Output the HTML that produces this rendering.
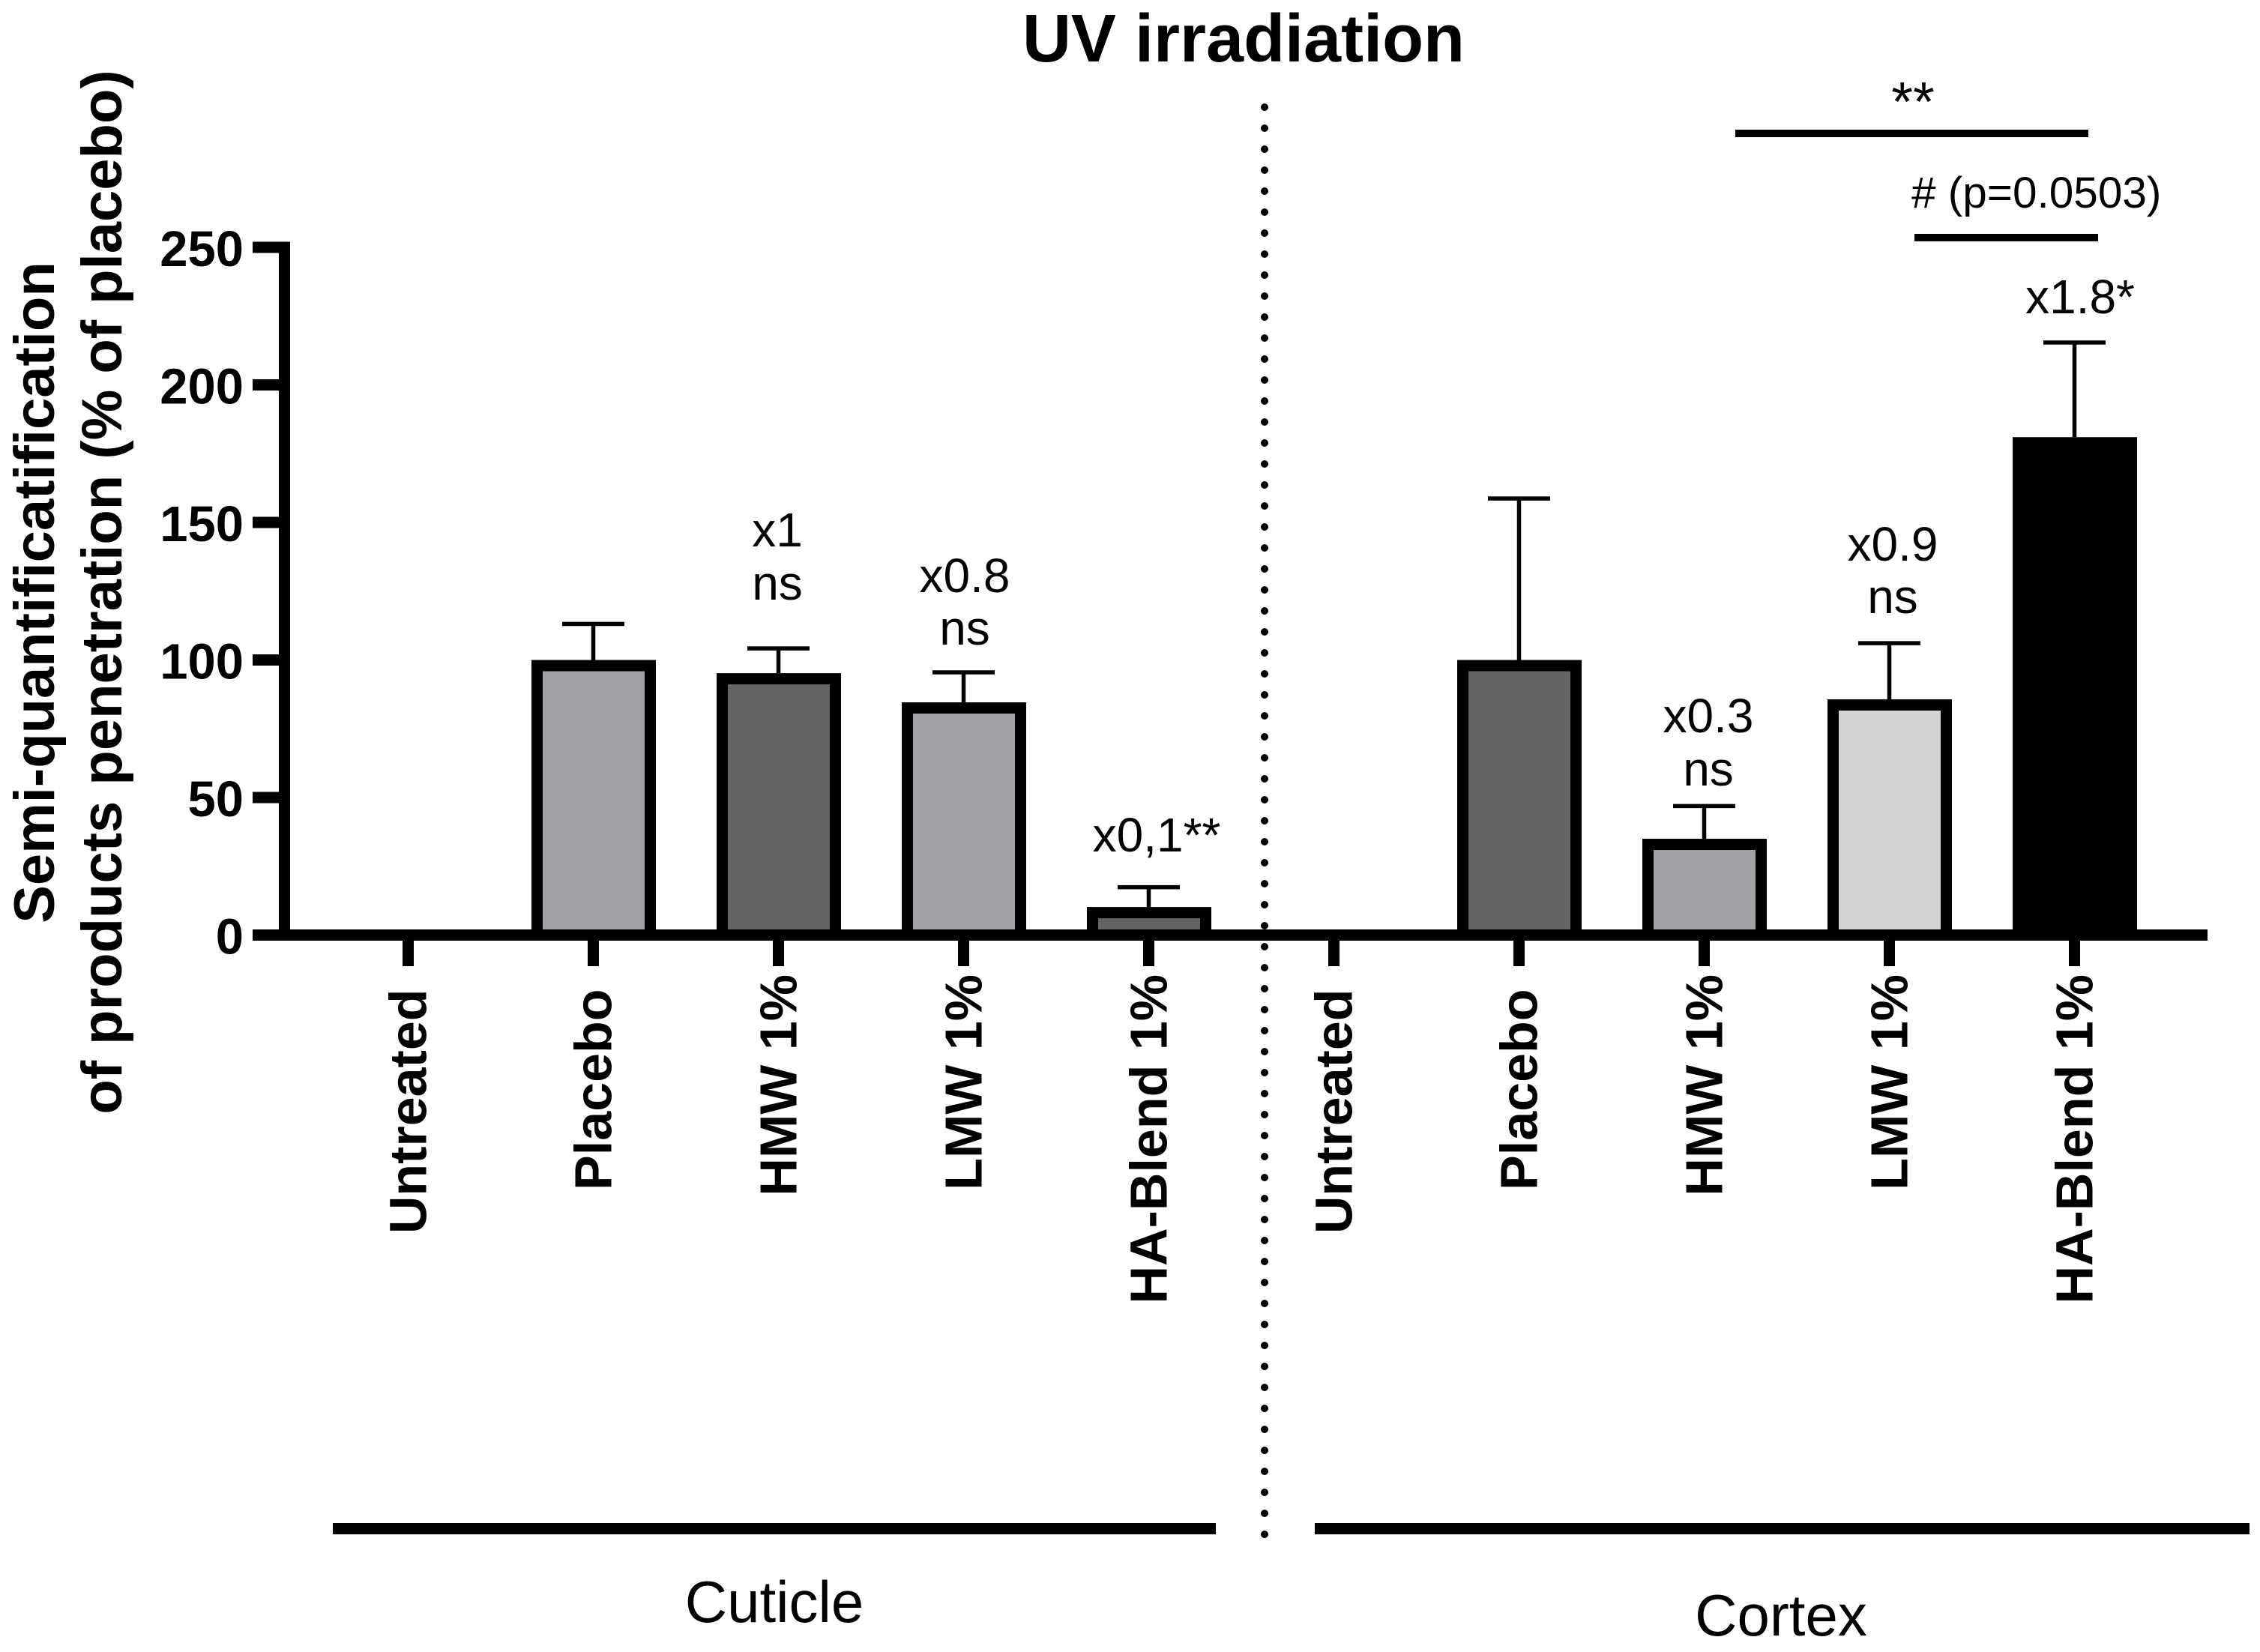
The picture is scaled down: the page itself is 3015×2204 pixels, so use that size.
<!DOCTYPE html>
<html lang="en">
<head>
<meta charset="utf-8">
<title>UV irradiation</title>
<style>
  html, body { margin: 0; padding: 0; background: #fff; }
  svg { display: block; }
  text { font-family: "Liberation Sans", Arial, sans-serif; fill: #000; }
  .bold { font-weight: bold; }
</style>
</head>
<body>
<svg id="chart" xmlns="http://www.w3.org/2000/svg" width="3015" height="2204" viewBox="0 0 3015 2204">
  <rect x="0" y="0" width="3015" height="2204" fill="#fff"/>

  <text class="bold" x="1659" y="82" font-size="90" text-anchor="middle">UV irradiation</text>

  <text class="bold" transform="translate(72 790.5) rotate(-90)" font-size="76" text-anchor="middle">Semi-quantificatification</text>
  <text class="bold" transform="translate(162 790) rotate(-90)" font-size="76" text-anchor="middle">of products penetration (% of placebo)</text>

  <g id="errors"></g>
  <g id="bars"></g>
  <g id="axes"></g>

  <line x1="1687" y1="143" x2="1687" y2="2050" stroke="#000" stroke-width="10" stroke-linecap="round" stroke-dasharray="0 28"/>

  <text x="1037" y="729" font-size="64" text-anchor="middle">x1</text>
  <text x="1037" y="800" font-size="64" text-anchor="middle">ns</text>
  <text x="1287" y="790" font-size="64" text-anchor="middle">x0.8</text>
  <text x="1287" y="860" font-size="64" text-anchor="middle">ns</text>
  <text x="1543" y="1136" font-size="64" text-anchor="middle">x0,1**</text>
  <text x="2279" y="977" font-size="64" text-anchor="middle">x0.3</text>
  <text x="2279" y="1048" font-size="64" text-anchor="middle">ns</text>
  <text x="2525" y="748" font-size="64" text-anchor="middle">x0.9</text>
  <text x="2525" y="818" font-size="64" text-anchor="middle">ns</text>
  <text x="2775" y="418" font-size="64" text-anchor="middle">x1.8*</text>

  <text x="2552" y="161" font-size="74" text-anchor="middle">**</text>
  <rect x="2315" y="173" width="471" height="10" fill="#000"/>
  <text x="2550" y="277" font-size="58.5"># (p=0.0503)</text>
  <rect x="2554" y="312" width="245" height="10" fill="#000"/>

  <rect x="444" y="2032" width="1178" height="15" fill="#000"/>
  <rect x="1754" y="2032" width="1247" height="15" fill="#000"/>
  <text x="1033" y="2164" font-size="78" text-anchor="middle">Cuticle</text>
  <text x="2376" y="2182" font-size="78" text-anchor="middle">Cortex</text>
</svg>

<script>
const categories = ["Untreated\u00A0", "Placebo\u00A0", "HMW 1%", "LMW 1%", "HA-Blend 1%", "Untreated\u00A0", "Placebo\u00A0", "HMW 1%", "LMW 1%", "HA-Blend 1%"];
const barValues = [0, 100, 95.2, 84.6, 10.2, 0, 100, 35, 85.7, 181];
const errorValues = [0, 13.1, 9, 10.9, 7.2, 0, 58.7, 11.9, 20.4, 34.4];
const yTicks = [0, 50, 100, 150, 200, 250];

const SHADES = ["#ffffff", "#a2a1a5", "#636363", "#a2a1a5", "#636363", "#ffffff", "#636363", "#a2a1a5", "#d4d4d4", "#000000"];
const NS = "http://www.w3.org/2000/svg";
const Y0 = 1247.5, YPX = 3.67, X0 = 544.5, XSTEP = 247;
const BAR_W = 166, BORDER = 15, CAP_W = 83;

function yScale(v) { return Y0 - v * YPX; }
function xScale(i) { return X0 + i * XSTEP; }

function make(parent, tag, attrs) {
  const el = document.createElementNS(NS, tag);
  for (const k in attrs) el.setAttribute(k, attrs[k]);
  parent.appendChild(el);
  return el;
}

const barsG = document.getElementById("bars");
const errG = document.getElementById("errors");
const axesG = document.getElementById("axes");

categories.forEach(function (cat, i) {
  const cx = xScale(i);
  const top = yScale(barValues[i]);
  const errTop = yScale(barValues[i] + errorValues[i]);
  const h = Math.max(0, Y0 - top);
  const slug = cat.trim().toLowerCase().replace(/[^a-z0-9]+/g, "-") + (i < 5 ? "-cuticle" : "-cortex");

  const stem = make(errG, "rect", { x: cx - 2.75, y: errTop, width: 5.5, height: Math.max(0, top - errTop), fill: "#000" });
  
  

  const cap = make(errG, "rect", { x: cx - CAP_W / 2, y: errTop - 2.75, width: CAP_W, height: 5.5, fill: "#000" });
  
  

  const outer = make(barsG, "rect", { x: cx + 0.5 - BAR_W / 2, y: top, width: BAR_W, height: h, fill: "#000" });
  
  

  const inner = make(barsG, "rect", { x: cx + 0.5 - BAR_W / 2 + BORDER, y: top + BORDER, width: BAR_W - 2 * BORDER, height: Math.max(0, h - BORDER), fill: SHADES[i] });
  
  

  const tick = make(axesG, "rect", { x: cx - 7.5, y: Y0, width: 15, height: 41.5, fill: "#000" });
  
  

  const label = make(axesG, "text", { transform: "translate(" + (cx + 24) + " 1300) rotate(-90)", "font-size": 70, "text-anchor": "end", "class": "bold" });
  label.textContent = cat;
  
  
});

const xAxis = make(axesG, "rect", { x: 337, y: Y0 - 7.5, width: 2608, height: 15, fill: "#000" });



const yAxis = make(axesG, "rect", { x: 372, y: yScale(yTicks[yTicks.length - 1]) - 7.5, width: 15, height: yScale(0) - yScale(yTicks[yTicks.length - 1]) + 15, fill: "#000" });



yTicks.forEach(function (t) {
  const tk = make(axesG, "rect", { x: 337, y: yScale(t) - 7.5, width: 40, height: 15, fill: "#000" });
  
  

  const lb = make(axesG, "text", { x: 325, y: yScale(t) + 25, "font-size": 67, "text-anchor": "end", "class": "bold" });
  lb.textContent = String(t);
  
  
});
</script>
</body>
</html>
